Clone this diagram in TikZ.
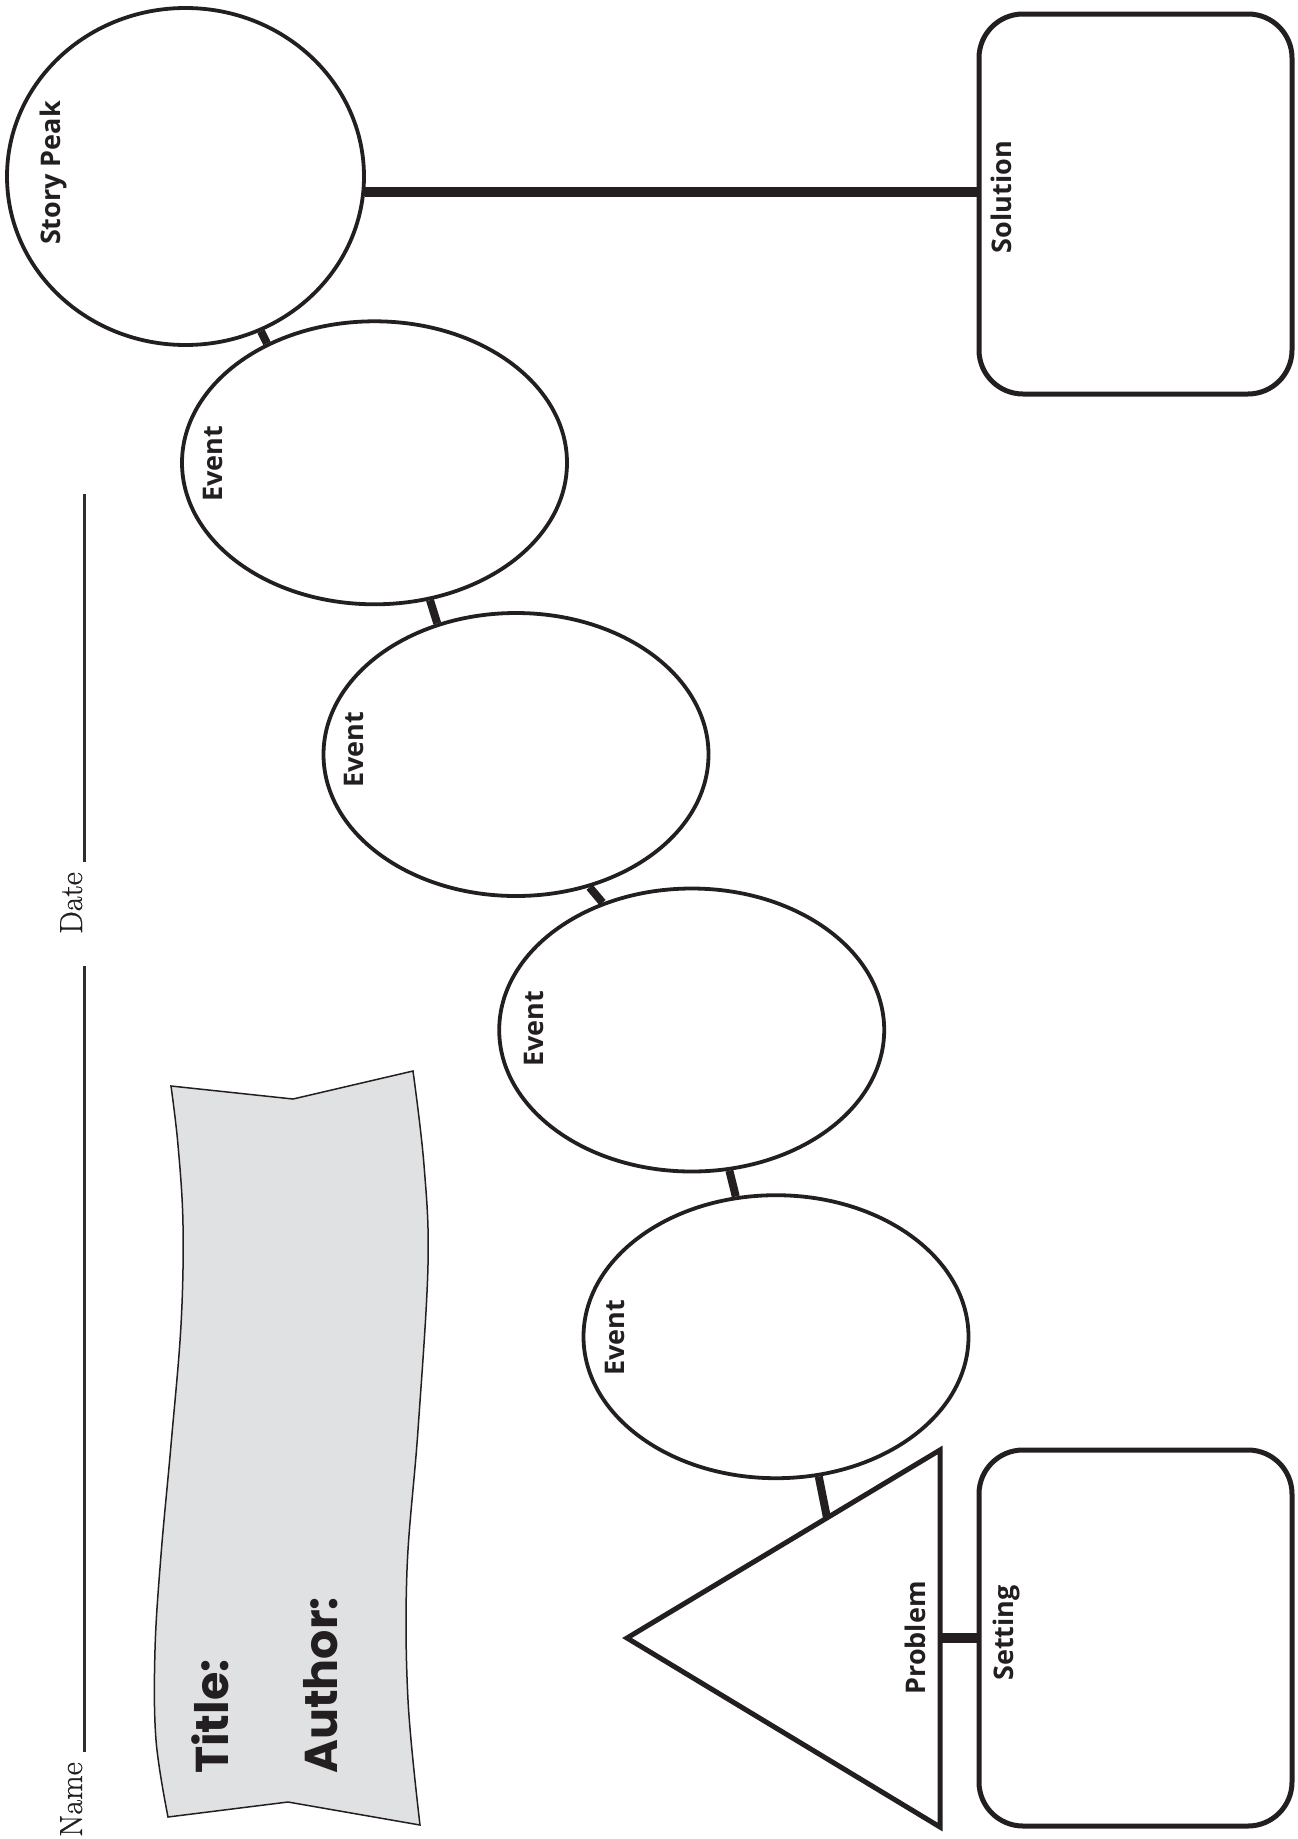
\documentclass[tikz,border=0pt]{standalone}
\usepackage{fontspec}
\usetikzlibrary{shapes.geometric,calc}
\newfontfamily\labfont{Open Sans}
\newfontfamily\titlefont{Poppins}
\newfontfamily\formfont[FakeBold=0.6]{Latin Modern Roman}
\definecolor{ink}{HTML}{231F20}
\definecolor{rule}{HTML}{2E2E2E}
\definecolor{banner}{HTML}{E0E1E3}

\begin{document}
\begin{tikzpicture}[x=1pt,y=-1pt,
  bubble/.style={ellipse, draw=ink, line width=3.8pt, minimum width=385pt,
                 minimum height=283pt, inner sep=0pt},
  peakbubble/.style={ellipse, draw=ink, line width=3.8pt, minimum width=357pt,
                 minimum height=337pt, inner sep=0pt},
  card/.style={rectangle, rounded corners=44pt, draw=ink, line width=5pt,
               minimum width=313pt, inner sep=0pt},
  link/.style={draw=ink, line width=8pt},
  thicklink/.style={draw=ink, line width=10pt},
  tag/.style={font=\labfont\bfseries\fontsize{27}{27}\selectfont, text=ink,
              rotate=90, anchor=base, inner sep=0pt},
  bigtag/.style={font=\titlefont\bfseries\fontsize{46}{46}\selectfont, text=ink,
                 rotate=90, anchor=base west, inner sep=0pt},
  formtag/.style={font=\formfont\fontsize{32}{32}\selectfont, text=ink,
                  rotate=90, anchor=base east, inner sep=0pt},
  formline/.style={draw=rule, line width=3pt}
]
\useasboundingbox (0,0) rectangle (1298,1839);
\fill[white] (0,0) rectangle (1298,1839);

% Name / Date lines
\node[formtag] (date) at (82,872) {Date};
\node[formtag] (name) at (82,1762) {Name};
\draw[formline] (84,494) -- (84,862);
\draw[formline] (84,966) -- (84,1752);

% Title banner
\filldraw[draw=ink, fill=banner, line width=1.5pt, line join=miter]
  (171,1086) -- (293,1099) -- (413,1071)
  -- plot[smooth, tension=0.6] coordinates {(413,1071) (424,1165) (428,1265)
        (418,1430) (407,1570) (408,1700) (420,1825)}
  -- (288,1802) -- (168,1817)
  -- plot[smooth, tension=0.6] coordinates {(168,1817) (156,1740) (155,1650)
        (161,1555) (171,1445) (181,1325) (183,1225) (178,1145) (171,1086)}
  -- cycle;
\node[bigtag] (title) at (228,1774) {Title:};
\node[bigtag] (author) at (337,1774) {Author:};

% Story peak and events
\node[peakbubble] (peak) at (185.5,176.5) {};
\node[bubble] (e1) at (374.5,462.8) {};
\node[bubble] (e2) at (516,754.5) {};
\node[bubble] (e3) at (691.7,1030) {};
\node[bubble] (e4) at (776,1336.7) {};

% Solution and setting cards
\node[card, minimum height=380pt] (sol) at (1135.5,204) {};
\node[card, minimum height=376pt] (set) at (1135.5,1638) {};

% Problem triangle
\coordinate (tip) at (627,1638);
\coordinate (ttop) at (940,1450);
\coordinate (tbot) at (940,1827);
\draw[ink, line width=5pt, line join=miter] (tip) -- (ttop) -- (tbot) -- cycle;
\coordinate (tedge) at ($(tip)!0.639!(ttop)$);

% Connectors
\draw[thicklink] (peak.-5) -- (peak.-5 -| sol.west);
\draw[link] (peak.-64) -- (e1.132);
\draw[link] (e1.-68.4) -- (e2.121);
\draw[link] (e2.-61) -- (e3.125.2);
\draw[link] (e3.-75) -- (e4.106.4);
\draw[link] (e4.-73.8) -- (tedge);
\draw[thicklink] (set.west) -- (set.west -| ttop);

% Labels
\node[tag] (lpeak) at (60,173) {Story Peak};
\node[tag] (l1) at (222,464) {Event};
\node[tag] (l2) at (363,750) {Event};
\node[tag] (l3) at (543,1029) {Event};
\node[tag] (l4) at (624,1338) {Event};
\node[tag] (lsol) at (1011,197) {Solution};
\node[tag] (lprob) at (925,1638) {Problem};
\node[tag] (lset) at (1013,1633) {Setting};
\end{tikzpicture}
\end{document}
